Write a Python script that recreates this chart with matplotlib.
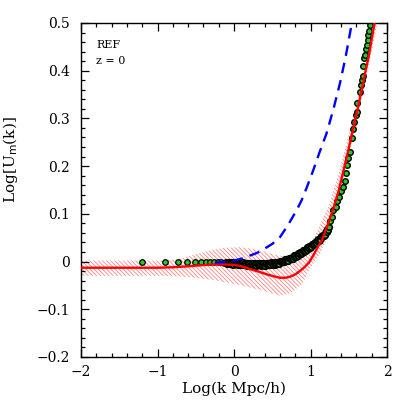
import matplotlib
matplotlib.use("Agg")
import matplotlib.pyplot as plt
from matplotlib.ticker import MultipleLocator, FuncFormatter

plt.rcParams["font.family"] = ["DejaVu Serif"]
plt.rcParams["hatch.linewidth"] = 0.55

# Модель (красная сплошная)
red_x = [-2.0, -1.0, -0.8, -0.6, -0.45, -0.3, -0.15, 0.0, 0.1, 0.21, 0.32, 0.43, 0.52,
         0.60, 0.67, 0.73, 0.80, 0.86, 0.92, 0.98, 1.04, 1.10, 1.15, 1.22, 1.30, 1.37,
         1.43, 1.50, 1.57, 1.63, 1.69, 1.76, 1.84, 1.88]
red_y = [-0.013, -0.013, -0.012, -0.010, -0.008, -0.006, -0.006, -0.007, -0.010, -0.016,
         -0.021, -0.027, -0.031, -0.034, -0.034, -0.032, -0.027, -0.020, -0.012, -0.002,
         0.014, 0.032, 0.045, 0.075, 0.112, 0.150, 0.190, 0.238, 0.288, 0.330, 0.377,
         0.430, 0.503, 0.535]

# Полоса неопределённости (штриховка)
band_x = [-2.0, -1.0, -0.75, -0.5, -0.3, -0.1, 0.1, 0.3, 0.45, 0.6, 0.75, 0.9, 1.0,
          1.12, 1.25, 1.4, 1.6, 1.8, 1.9]
band_hi = [0.002, 0.002, 0.004, 0.015, 0.024, 0.029, 0.030, 0.025, 0.018, 0.012, 0.010,
           0.018, 0.035, 0.075, 0.122, 0.205, 0.330, 0.480, 0.560]
band_lo = [-0.030, -0.030, -0.031, -0.034, -0.038, -0.044, -0.050, -0.058, -0.064,
           -0.072, -0.066, -0.045, -0.012, 0.015, 0.060, 0.155, 0.290, 0.440, 0.520]

# Синяя штриховая
blue_x = [-0.25, -0.1, 0.0, 0.1, 0.2, 0.3, 0.38, 0.5, 0.6, 0.7, 0.82, 0.885, 0.95,
          1.037, 1.12, 1.21, 1.3, 1.385, 1.46, 1.54, 1.57]
blue_y = [-0.002, -0.001, 0.002, 0.006, 0.012, 0.018, 0.025, 0.037, 0.051, 0.075, 0.108,
          0.129, 0.155, 0.192, 0.230, 0.269, 0.320, 0.374, 0.430, 0.500, 0.525]

# Точки симуляции: редкие слева
sparse_x = [-1.20, -0.905, -0.73, -0.61, -0.51, -0.43, -0.37, -0.31, -0.26, -0.21, -0.17,
            -0.135]
sparse_y = [0.0, 0.0, 0.0, 0.0, 0.0, -0.001, -0.001, -0.001, -0.002, -0.002, -0.002, -0.003]

# плотная часть (от -0.1 до 1.24 с шагом 0.01)
dense_x = [-0.10, -0.09, -0.08, -0.07, -0.06, -0.05, -0.04, -0.03, -0.02, -0.01,
           0.00, 0.01, 0.02, 0.03, 0.04, 0.05, 0.06, 0.07, 0.08, 0.09,
           0.10, 0.11, 0.12, 0.13, 0.14, 0.15, 0.16, 0.17, 0.18, 0.19,
           0.20, 0.21, 0.22, 0.23, 0.24, 0.25, 0.26, 0.27, 0.28, 0.29,
           0.30, 0.31, 0.32, 0.33, 0.34, 0.35, 0.36, 0.37, 0.38, 0.39,
           0.40, 0.41, 0.42, 0.43, 0.44, 0.45, 0.46, 0.47, 0.48, 0.49,
           0.50, 0.51, 0.52, 0.53, 0.54, 0.55, 0.56, 0.57, 0.58, 0.59,
           0.60, 0.61, 0.62, 0.63, 0.64, 0.65, 0.66, 0.67, 0.68, 0.69,
           0.70, 0.71, 0.72, 0.73, 0.74, 0.75, 0.76, 0.77, 0.78, 0.79,
           0.80, 0.81, 0.82, 0.83, 0.84, 0.85, 0.86, 0.87, 0.88, 0.89,
           0.90, 0.91, 0.92, 0.93, 0.94, 0.95, 0.96, 0.97, 0.98, 0.99,
           1.00, 1.01, 1.02, 1.03, 1.04, 1.05, 1.06, 1.07, 1.08, 1.09,
           1.10, 1.11, 1.12, 1.13, 1.14, 1.15, 1.16, 1.17, 1.18, 1.19,
           1.20, 1.21, 1.22, 1.23, 1.24]
dense_y = [-0.001, -0.005, -0.002, -0.006, -0.001, -0.005, -0.002, -0.006, -0.003, -0.007,
           -0.001, -0.005, -0.002, -0.006, -0.003, -0.008, -0.002, -0.006, -0.003, -0.007,
           -0.004, -0.008, -0.002, -0.006, -0.003, -0.008, -0.005, -0.009, -0.003, -0.007,
           -0.004, -0.008, -0.005, -0.009, -0.003, -0.007, -0.004, -0.008, -0.005, -0.009,
           -0.003, -0.007, -0.004, -0.008, -0.005, -0.009, -0.003, -0.007, -0.004, -0.008,
           -0.005, -0.009, -0.003, -0.007, -0.004, -0.008, -0.005, -0.008, -0.002, -0.006,
           -0.003, -0.007, -0.004, -0.007, -0.001, -0.005, -0.002, -0.005, -0.002, -0.005,
           0.001, -0.002, 0.001, -0.002, 0.001, -0.002, 0.005, 0.001, 0.005, 0.001,
           0.005, 0.002, 0.008, 0.005, 0.008, 0.005, 0.009, 0.006, 0.013, 0.009,
           0.013, 0.010, 0.014, 0.011, 0.018, 0.015, 0.019, 0.016, 0.020, 0.017,
           0.024, 0.021, 0.025, 0.022, 0.027, 0.024, 0.031, 0.028, 0.032, 0.029,
           0.033, 0.030, 0.037, 0.034, 0.039, 0.036, 0.040, 0.038, 0.045, 0.042,
           0.047, 0.044, 0.049, 0.046, 0.054, 0.051, 0.056, 0.053, 0.058, 0.055,
           0.063, 0.062, 0.068, 0.067, 0.073]

# верхняя ветвь
upper_x = [1.255, 1.277, 1.298, 1.333, 1.35, 1.376, 1.394, 1.421, 1.451, 1.464, 1.481, 1.494,
           1.516, 1.538, 1.56, 1.573, 1.595, 1.604, 1.61, 1.647, 1.66, 1.667, 1.68, 1.69,
           1.703, 1.712, 1.722, 1.735, 1.748, 1.757, 1.765, 1.78]
upper_y = [0.084, 0.094, 0.108, 0.115, 0.126, 0.136, 0.147, 0.157, 0.168, 0.185, 0.203, 0.217,
           0.230, 0.258, 0.277, 0.293, 0.307, 0.314, 0.332, 0.355, 0.370, 0.381, 0.388, 0.409,
           0.426, 0.433, 0.445, 0.454, 0.465, 0.474, 0.483, 0.495]

fig = plt.figure(figsize=(4.07, 4.07), dpi=100)
ax = fig.add_axes([0.199, 0.123, 0.752, 0.8205])

ax.fill_between(band_x, band_lo, band_hi, facecolor="none", edgecolor="#ff7a7a",
                hatch="\\" * 8, linewidth=0, zorder=1)
ax.plot(sparse_x, sparse_y, "o", ms=4.0, mfc="#22cc22", mec="black", mew=0.9, zorder=2)
ax.plot(dense_x, dense_y, "o", ms=4.0, mfc="#22cc22", mec="black", mew=1.2, zorder=2)
ax.plot(upper_x, upper_y, "o", ms=4.0, mfc="#22cc22", mec="black", mew=1.0, zorder=2)
ax.plot(red_x, red_y, color="red", lw=1.7, zorder=3)
ax.plot(blue_x, blue_y, color="blue", lw=1.7, dashes=(4.5, 3), zorder=3)

ax.set_xlim(-2, 2)
ax.set_ylim(-0.2, 0.5)
ax.xaxis.set_major_locator(MultipleLocator(1))
ax.xaxis.set_minor_locator(MultipleLocator(0.2))
ax.yaxis.set_major_locator(MultipleLocator(0.1))
ax.yaxis.set_minor_locator(MultipleLocator(0.02))


def fmt(v, pos, nd):
    if abs(v) < 1e-9:
        return "0"
    return f"{v:.{nd}f}".replace("-", "\u2212")


ax.xaxis.set_major_formatter(FuncFormatter(lambda v, p: fmt(v, p, 0)))
ax.yaxis.set_major_formatter(FuncFormatter(lambda v, p: fmt(v, p, 1)))
ax.tick_params(which="both", direction="in", top=True, right=True, width=0.9, labelsize=10)
ax.tick_params(which="major", length=6, pad=6)
ax.tick_params(which="minor", length=3)
ax.tick_params(axis="y", which="major", pad=8)
for s in ax.spines.values():
    s.set_linewidth(1.0)

ax.set_xlabel("Log(k Mpc/h)", fontsize=11, labelpad=2)
ax.set_ylabel("Log[U$_{\\rm m}$(k)]", fontsize=11)
ax.yaxis.set_label_coords(-0.2, 0.59)

ax.text(0.05, 0.95, "REF", transform=ax.transAxes, fontsize=8, va="top")
ax.text(0.05, 0.90, "z = 0", transform=ax.transAxes, fontsize=8, va="top")

fig.savefig("out.png", dpi=100)
